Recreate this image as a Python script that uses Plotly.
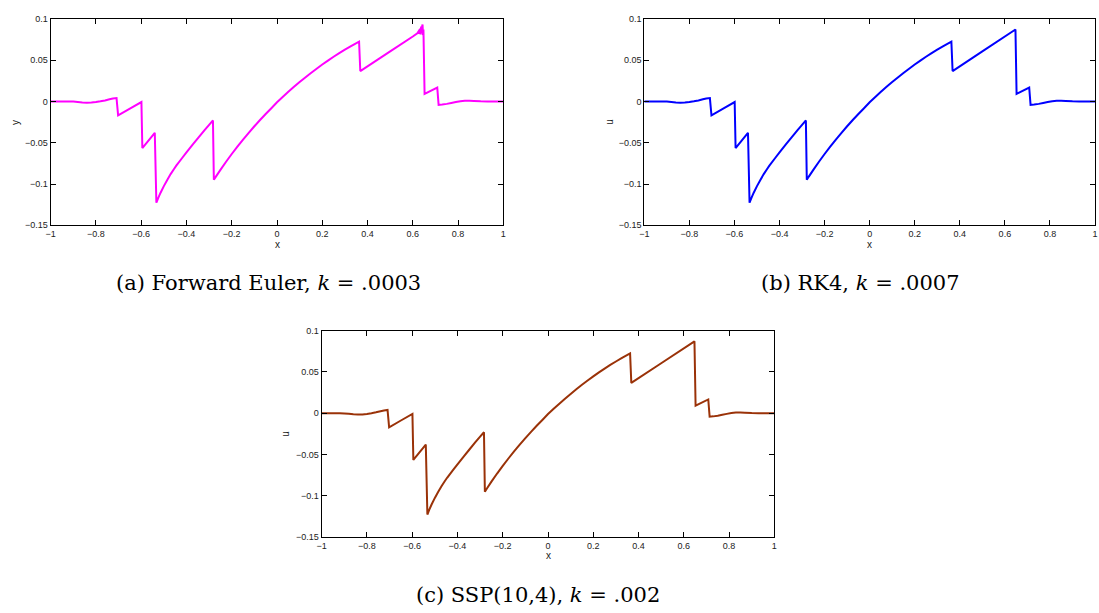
import plotly.graph_objects as go

# ---------------- data ----------------
x_rk4 = [-1.0, -0.95, -0.92, -0.90, -0.88, -0.86, -0.84, -0.82, -0.80, -0.78, -0.76, -0.74, -0.725, -0.709,
         -0.702, -0.65, -0.599,
         -0.595, -0.540,
         -0.533, -0.525, -0.515, -0.50, -0.485, -0.47, -0.455, -0.445, -0.42, -0.40, -0.371, -0.35,
         -0.32, -0.30, -0.283,
         -0.279, -0.27, -0.25, -0.225, -0.20, -0.175, -0.15, -0.125, -0.10, -0.075, -0.05, -0.025,
         0.0, 0.025, 0.05, 0.075, 0.10, 0.125, 0.15, 0.175, 0.20, 0.225, 0.25, 0.275, 0.30, 0.325, 0.3626,
         0.368, 0.50, 0.647,
         0.652, 0.708,
         0.714, 0.73, 0.75, 0.77, 0.79, 0.81, 0.83, 0.85, 0.87, 0.90, 0.93, 1.0]
u_rk4 = [0.0, 0.0, 0.0, -0.0002, -0.0007, -0.0012, -0.0015, -0.0014, -0.0008, 0.0001, 0.0012, 0.0025, 0.0034, 0.0040,
         -0.0170, -0.0088, -0.0008,
         -0.0565, -0.0380,
         -0.1226, -0.1170, -0.1108, -0.1025, -0.0950, -0.0880, -0.0818, -0.0778, -0.0688, -0.0618, -0.0518, -0.0448,
         -0.0348, -0.0284, -0.0230,
         -0.0949, -0.0910, -0.0828, -0.0730, -0.0637, -0.0548, -0.0462, -0.0380, -0.0301, -0.0225, -0.0152, -0.0082,
         -0.0010, 0.0054, 0.0116, 0.0176, 0.0234, 0.0290, 0.0344, 0.0396, 0.0446, 0.0494, 0.0540, 0.0584, 0.0626, 0.0666, 0.0724,
         0.0367, 0.0605, 0.0870,
         0.0091, 0.0167,
         -0.0042, -0.0038, -0.0030, -0.0019, -0.0008, 0.0002, 0.0008, 0.0009, 0.0006, 0.0002, 0.0, 0.0]

x_euler = [-1.0, -0.95, -0.92, -0.90, -0.88, -0.86, -0.84, -0.82, -0.80, -0.78, -0.76, -0.74, -0.725, -0.709,
           -0.702, -0.65, -0.599,
           -0.595, -0.540,
           -0.533, -0.525, -0.515, -0.50, -0.485, -0.47, -0.455, -0.445, -0.42, -0.40, -0.371, -0.35,
           -0.32, -0.30, -0.283,
           -0.279, -0.27, -0.25, -0.225, -0.20, -0.175, -0.15, -0.125, -0.10, -0.075, -0.05, -0.025,
           0.0, 0.025, 0.05, 0.075, 0.10, 0.125, 0.15, 0.175, 0.20, 0.225, 0.25, 0.275, 0.30, 0.325, 0.3626,
           0.368, 0.50, 0.60, 0.620, 0.632, 0.628, 0.638, 0.634, 0.643, 0.645, 0.647,
           0.652, 0.708,
           0.714, 0.73, 0.75, 0.77, 0.79, 0.81, 0.83, 0.85, 0.87, 0.90, 0.93, 1.0]
u_euler = [0.0, 0.0, 0.0, -0.0002, -0.0007, -0.0012, -0.0015, -0.0014, -0.0008, 0.0001, 0.0012, 0.0025, 0.0034, 0.0040,
           -0.0170, -0.0088, -0.0008,
           -0.0565, -0.0380,
           -0.1226, -0.1170, -0.1108, -0.1025, -0.0950, -0.0880, -0.0818, -0.0778, -0.0688, -0.0618, -0.0518, -0.0448,
           -0.0348, -0.0284, -0.0230,
           -0.0949, -0.0910, -0.0828, -0.0730, -0.0637, -0.0548, -0.0462, -0.0380, -0.0301, -0.0225, -0.0152, -0.0082,
           -0.0010, 0.0054, 0.0116, 0.0176, 0.0234, 0.0290, 0.0344, 0.0396, 0.0446, 0.0494, 0.0540, 0.0584, 0.0626, 0.0666, 0.0724,
           0.0367, 0.0605, 0.0785, 0.0825, 0.0875, 0.0815, 0.0905, 0.0810, 0.0930, 0.0800, 0.0870,
           0.0091, 0.0167,
           -0.0042, -0.0038, -0.0030, -0.0019, -0.0008, 0.0002, 0.0008, 0.0009, 0.0006, 0.0002, 0.0, 0.0]

x_ssp = list(x_rk4)
u_ssp = list(u_rk4)

x_ticks = [-1, -0.8, -0.6, -0.4, -0.2, 0, 0.2, 0.4, 0.6, 0.8, 1]
x_tick_text = ["\u22121", "\u22120.8", "\u22120.6", "\u22120.4", "\u22120.2", "0", "0.2", "0.4", "0.6", "0.8", "1"]
y_ticks = [-0.15, -0.1, -0.05, 0, 0.05, 0.1]
y_tick_text = ["\u22120.15", "\u22120.1", "\u22120.05", "0", "0.05", "0.1"]

captions = ["(a) Forward Euler, <i>k</i> = .0003", "(b) RK4, <i>k</i> = .0007", "(c) SSP(10,4), <i>k</i> = .002"]
y_titles = ["y", "u", "u"]
colors = ["#FF00FF", "#0000FF", "#9A3208"]

# ---------------- layout geometry (pixels) ----------------
W, H = 1099, 613
boxes = [(46, 502, 14, 224), (644, 1098, 14, 224), (319, 775, 331, 541)]

fig = go.Figure()
series = [(x_euler, u_euler), (x_rk4, u_rk4), (x_ssp, u_ssp)]
annotations = []
tick_font = dict(family="Liberation Sans, Arial", size=9, color="#222")
for i, ((xs, ys), (l, r, t, b)) in enumerate(zip(series, boxes)):
    n = "" if i == 0 else str(i + 1)
    fig.add_trace(go.Scatter(x=xs, y=ys, mode="lines", xaxis="x" + n, yaxis="y" + n,
                             line=dict(color=colors[i], width=2, simplify=False), showlegend=False,
                             hoverinfo="skip"))
    axcommon = dict(showline=True, linecolor="black", linewidth=1, mirror="ticks",
                    ticks="inside", ticklen=5, tickwidth=1, tickcolor="black",
                    showgrid=False, zeroline=False, tickfont=tick_font)
    fig.update_layout(**{
        "xaxis" + n: dict(domain=[l / W, r / W], range=[-1, 1], anchor="y" + n,
                          tickvals=x_ticks, ticktext=x_tick_text, **axcommon),
        "yaxis" + n: dict(domain=[1 - b / H, 1 - t / H], range=[-0.15, 0.1], anchor="x" + n,
                          tickvals=y_ticks, ticktext=y_tick_text, **axcommon),
    })
    cx = (l + r) / 2
    annotations.append(dict(text="x", x=cx / W, y=1 - (b + 19) / H, xref="paper", yref="paper",
                            showarrow=False, font=dict(family="Liberation Sans, Arial", size=10, color="#222"),
                            xanchor="center", yanchor="middle"))
    annotations.append(dict(text=y_titles[i], x=(l - 36) / W, y=1 - (t + b) / 2 / H, xref="paper", yref="paper",
                            showarrow=False, textangle=-90,
                            font=dict(family="Liberation Sans, Arial", size=10, color="#222"),
                            xanchor="center", yanchor="middle"))

cap_pos = [(265, 283), (862, 283), (537, 600)]
for txt, (cx, cy) in zip(captions, cap_pos):
    annotations.append(dict(text=txt, x=cx / W, y=1 - cy / H, xref="paper", yref="paper",
                            showarrow=False, font=dict(family="DejaVu Serif", size=21, color="black"),
                            xanchor="center", yanchor="middle"))

fig.update_layout(width=W, height=H, margin=dict(l=0, r=0, t=0, b=0),
                  paper_bgcolor="white", plot_bgcolor="white", annotations=annotations)

fig.write_html("out.html")
